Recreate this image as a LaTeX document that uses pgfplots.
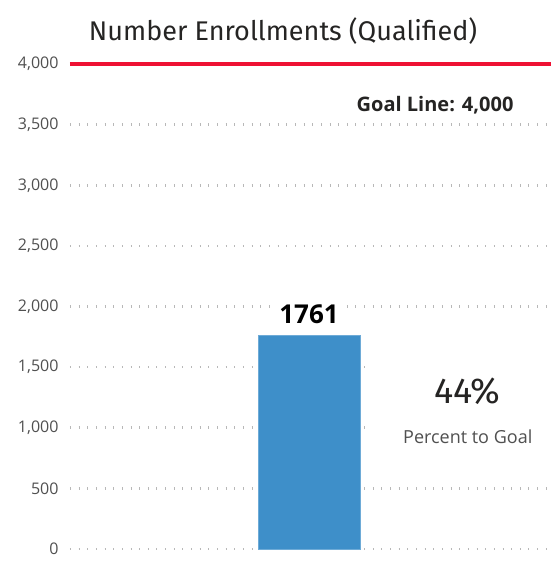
\documentclass[border=0pt]{standalone}
\usepackage{pgfplots}
\pgfplotsset{compat=1.18}
\usepackage{fontspec}
\setmainfont{Open Sans}
\newfontfamily\din{Fira Sans}
\definecolor{barblue}{HTML}{3E8FC9}
\definecolor{goalred}{HTML}{EE1133}
\definecolor{txt}{HTML}{252423}
\definecolor{ticktxt}{HTML}{505050}
\definecolor{dotgray}{HTML}{B8B8B8}
\begin{document}
\begin{tikzpicture}
\useasboundingbox (-70pt,-14pt) rectangle (481pt,549pt);
\begin{axis}[
  at={(0,0)}, anchor=south west,
  scale only axis, width=481pt, height=485pt,
  xmin=0, xmax=1, ymin=0, ymax=4000,
  axis line style={draw=none},
  xtick=\empty,
  ytick={0,500,...,4000},
  yticklabel style={font=\fontsize{16}{19}\selectfont, text=ticktxt, xshift=-8pt},
  /pgf/number format/1000 sep={,},
  /pgf/number format/assume math mode=true,
  major tick length=0pt,
  ymajorgrids,
  grid style={dotgray, line width=2.6pt, dash pattern=on 1pt off 7.65pt},
  clip=false,
]
\addplot[ybar, bar width=102pt, fill=barblue, draw=barblue!75!white, line width=0.6pt] coordinates {(0.497,1761)};
\addplot[goalred, line width=4pt] coordinates {(0,4000) (1,4000)};
% white boxes that hide gridlines
\fill[white] (axis cs:0.58,3550) rectangle (axis cs:1.01,3900);
\fill[white] (axis cs:0.628,800) rectangle (axis cs:1.01,1700);
\node[font=\bfseries\fontsize{26}{30}\selectfont, text=black, fill=white, inner xsep=5pt, inner ysep=1pt, anchor=base] at (axis cs:0.497,1857) {1761};
\node[font=\bfseries\fontsize{20}{24}\selectfont, text=txt, anchor=base] at (axis cs:0.759,3607) {Goal Line: 4,000};
\node[font=\din\fontsize{36}{40}\selectfont, text=txt, anchor=base] at (axis cs:0.826,1204) {44\%};
\node[font=\fontsize{18}{21}\selectfont, text=ticktxt, anchor=base] at (axis cs:0.827,871) {Percent to Goal};
\node[font=\din\fontsize{27}{32}\selectfont, text=txt, anchor=base] at ([yshift=23.6pt]rel axis cs:0.443,1) {Number Enrollments (Qualified)};
\end{axis}
\end{tikzpicture}
\end{document}
